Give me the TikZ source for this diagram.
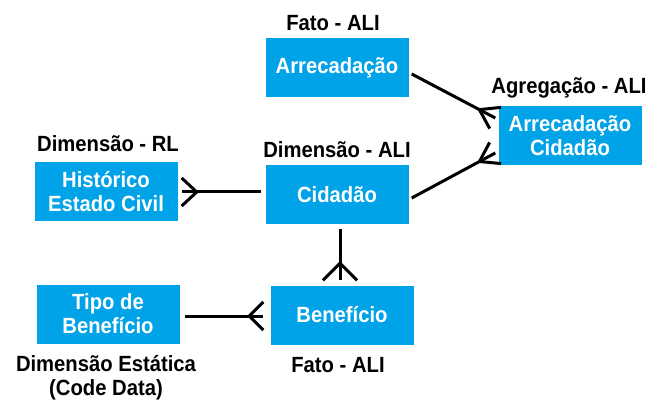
\documentclass[tikz,border=0pt]{standalone}
\usepackage{fontspec}
\setmainfont{Liberation Sans}[FakeStretch=0.92]
\usetikzlibrary{calc}
\definecolor{boxblue}{RGB}{0,162,232}
% crow's foot: tip, other end, length, spread
\newcommand{\crowfoot}[4]{
	\draw[link] ($(#1)!#3!(#2)$) -- ($(#1)!#4!90:(#2)$);
	\draw[link] ($(#1)!#3!(#2)$) -- ($(#1)!#4!-90:(#2)$);
}
\begin{document}
\begin{tikzpicture}[x=1pt, y=-1pt, font=\fontsize{22}{24}\selectfont\bfseries,
		entity/.style={fill=boxblue, text=white, minimum width=143pt, minimum height=59pt, align=center, inner sep=0pt},
		lbl/.style={align=center, inner sep=0pt},
		link/.style={line width=3pt}]
			\useasboundingbox (0,0) rectangle (654,401);
			
			%entities
			\node (arr) at (337,68) [entity]{Arrecadação};
			\node (agr) at (570,136) [entity]{Arrecadação\\Cidadão};
			\node (hist) at (106,192) [entity]{Histórico\\Estado Civil};
			\node (cid) at (337,195) [entity]{Cidadão};
			\node (tipo) at (108,314) [entity]{Tipo de\\Benefício};
			\node (ben) at (342,315) [entity]{Benefício};
			
			%labels
			\node (lblArr) at (333,23) [lbl]{Fato - ALI};
			\node (lblAgr) at (569,88) [lbl]{Agregação - ALI};
			\node (lblHist) at (108,144) [lbl]{Dimensão - RL};
			\node (lblCid) at (337,150) [lbl]{Dimensão - ALI};
			\node (lblBen) at (338,365) [lbl]{Fato - ALI};
			\node (lblTipo) at (106,378) [lbl]{Dimensão Estática\\(Code Data)};
			
			%relations
			\draw[link] ([xshift=4pt]hist.east) -- ([xshift=-4pt,yshift=3pt]cid.west);
			\crowfoot{[xshift=4pt]hist.east}{[xshift=-4pt,yshift=3pt]cid.west}{15pt}{14pt}
			
			\draw[link] ([xshift=3pt,yshift=-4pt]cid.south) -- ([xshift=-2pt,yshift=5pt]ben.north);
			\crowfoot{[xshift=-2pt,yshift=5pt]ben.north}{[xshift=3pt,yshift=-4pt]cid.south}{17pt}{17pt}
			
			\draw[link] ([xshift=5pt,yshift=-2pt]tipo.east) -- ([xshift=-7pt,yshift=-1pt]ben.west);
			\crowfoot{[xshift=-7pt,yshift=-1pt]ben.west}{[xshift=5pt,yshift=-2pt]tipo.east}{14pt}{14pt}
			
			\draw[link] ([xshift=3pt,yshift=-6pt]arr.east) -- ([xshift=-3pt,yshift=18pt]agr.west);
			\crowfoot{[xshift=-3pt,yshift=18pt]agr.west}{[xshift=3pt,yshift=-6pt]arr.east}{18pt}{12pt}
			
			\draw[link] ([xshift=3pt,yshift=-3pt]cid.east) -- ([xshift=-3pt,yshift=-17pt]agr.west);
			\crowfoot{[xshift=-3pt,yshift=-17pt]agr.west}{[xshift=3pt,yshift=-3pt]cid.east}{18pt}{12pt}
\end{tikzpicture}
\end{document}
